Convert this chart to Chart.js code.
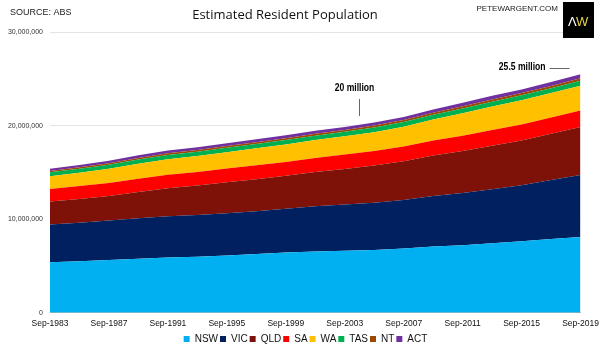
<!DOCTYPE html>
<html>
<head>
<meta charset="utf-8">
<title>Estimated Resident Population</title>
<style>
  html, body { margin: 0; padding: 0; background: #fff; }
  #wrap { width: 602px; height: 354px; position: relative; }
</style>
</head>
<body>
<div id="wrap"><canvas id="c" width="602" height="354"></canvas></div>
<script src="https://cdn.jsdelivr.net/npm/chart.js"></script>
<script>
// years since Sep-1983 (every second September)
var yearIdx = [0, 2, 4, 6, 8, 10, 12, 14, 16, 18, 20, 22, 24, 26, 28, 30, 32, 34, 36];
var startYear = 1983;
var tickYears = [0, 4, 8, 12, 16, 20, 24, 28, 32, 36];

// population, millions
var nsw = [5.40, 5.50, 5.63, 5.77, 5.90, 5.99, 6.13, 6.28, 6.43, 6.56, 6.64, 6.72, 6.86, 7.07, 7.23, 7.43, 7.64, 7.89, 8.10];
var vic = [4.03, 4.12, 4.22, 4.34, 4.42, 4.46, 4.51, 4.58, 4.68, 4.83, 4.93, 5.03, 5.19, 5.40, 5.56, 5.76, 5.98, 6.30, 6.63];
var qld = [2.46, 2.55, 2.64, 2.79, 2.98, 3.14, 3.30, 3.42, 3.52, 3.64, 3.80, 3.98, 4.14, 4.33, 4.49, 4.66, 4.80, 4.95, 5.11];
var sa  = [1.34, 1.37, 1.39, 1.42, 1.45, 1.46, 1.47, 1.48, 1.49, 1.51, 1.53, 1.55, 1.58, 1.61, 1.64, 1.67, 1.70, 1.72, 1.76];
var wa  = [1.35, 1.42, 1.50, 1.60, 1.65, 1.69, 1.75, 1.81, 1.87, 1.91, 1.96, 2.02, 2.12, 2.25, 2.40, 2.53, 2.59, 2.61, 2.66];
var tas = [0.43, 0.44, 0.44, 0.46, 0.47, 0.47, 0.47, 0.47, 0.47, 0.47, 0.48, 0.49, 0.49, 0.50, 0.51, 0.51, 0.52, 0.52, 0.54];
var nt  = [0.14, 0.15, 0.16, 0.16, 0.17, 0.17, 0.18, 0.19, 0.19, 0.20, 0.20, 0.21, 0.21, 0.22, 0.23, 0.24, 0.24, 0.25, 0.25];
var act = [0.23, 0.25, 0.26, 0.28, 0.29, 0.30, 0.30, 0.31, 0.31, 0.32, 0.32, 0.33, 0.34, 0.35, 0.37, 0.38, 0.40, 0.41, 0.43];

var stateNames = ["NSW", "VIC", "QLD", "SA", "WA", "TAS", "NT", "ACT"];
var stateColors = ["#00b0f0", "#002060", "#7f1208", "#ff0000", "#ffc000", "#00b050", "#9c4a00", "#7030a0"];
var stateData = [nsw, vic, qld, sa, wa, tas, nt, act];

var notes = [
  { text: "20 million", x: 21, labelY: 88, lineTop: 99, lineBot: 116 },
  { text: "25.5 million", x: 36, labelY: 67 }
];

function toPoints(arr) {
  return arr.map(function (v, i) { return { x: yearIdx[i], y: v * 1000000 }; });
}

var datasets = [];
for (let i = 0; i < stateNames.length; i++) {
  datasets.push({
    label: stateNames[i],
    data: toPoints(stateData[i]),
    backgroundColor: stateColors[i],
    borderColor: stateColors[i],
    borderWidth: 0,
    pointRadius: 0,
    tension: 0,
    fill: i == 0 ? "origin" : "-1"
  });
}

// condensed bold text (no narrow font installed)
function narrowText(ctx, text, x, y, align) {
  var sx = 0.78;
  ctx.save();
  ctx.translate(x, y);
  ctx.scale(sx, 1);
  ctx.textAlign = align;
  ctx.fillText(text, 0, 0);
  ctx.restore();
}

var overlay = {
  id: "overlay",
  afterLayout: function (chart) {
    // legend sits a bit right of centre in the original
    chart.legend.left += 14;
    chart.legend.right += 14;
  },
  afterDraw: function (chart) {
    var ctx = chart.ctx;
    var xs = chart.scales.x;
    ctx.save();
    // header texts
    ctx.fillStyle = "#222";
    ctx.font = "9px 'Liberation Sans', Arial, sans-serif";
    ctx.textBaseline = "middle";
    ctx.textAlign = "left";
    ctx.fillText("SOURCE: ABS", 10, 13);
    ctx.textAlign = "right";
    ctx.font = "8px 'Liberation Sans', Arial, sans-serif";
    ctx.fillText("PETEWARGENT.COM", 558, 9);
    ctx.textAlign = "center";
    ctx.fillStyle = "#111";
    ctx.font = "13px 'Open Sans', sans-serif";
    ctx.fillText("Estimated Resident Population", 285, 15);
    // logo
    ctx.fillStyle = "#000";
    ctx.fillRect(563, 2, 31, 36);
    ctx.font = "13px 'Liberation Sans', Arial, sans-serif";
    ctx.textAlign = "left";
    ctx.fillStyle = "#fff";
    ctx.fillText("\u039B", 568, 22);
    ctx.fillStyle = "#e8d44a";
    ctx.fillText("W", 576, 22);
    // annotations
    ctx.fillStyle = "#000";
    ctx.strokeStyle = "#666";
    ctx.lineWidth = 1;
    ctx.font = "bold 11px 'Liberation Sans', Arial, sans-serif";
    var a = notes[0];
    var ax = Math.round(xs.getPixelForValue(a.x)) + 0.5;
    narrowText(ctx, a.text, ax - 5, a.labelY, "center");
    ctx.beginPath();
    ctx.moveTo(ax, a.lineTop);
    ctx.lineTo(ax, a.lineBot);
    ctx.stroke();
    var b = notes[1];
    var bx = xs.getPixelForValue(b.x);
    narrowText(ctx, b.text, bx - 35, b.labelY, "right");
    ctx.beginPath();
    ctx.moveTo(bx - 31, b.labelY + 1.5);
    ctx.lineTo(bx - 11, b.labelY + 1.5);
    ctx.stroke();
    ctx.restore();
  }
};

new Chart(document.getElementById("c"), {
  type: "line",
  data: { datasets: datasets },
  plugins: [overlay],
  options: {
    responsive: false,
    animation: false,
    layout: { padding: { top: 32, right: 19, left: 0, bottom: 0 } },
    scales: {
      x: {
        type: "linear",
        min: 0,
        max: 36,
        afterBuildTicks: function (s) {
          s.ticks = tickYears.map(function (v) { return { value: v }; });
        },
        ticks: {
          autoSkip: false,
          maxRotation: 0,
          color: "#111",
          padding: 3,
          font: { family: "'Liberation Sans', Arial, sans-serif", size: 8.5 },
          callback: function (v) { return "Sep-" + (startYear + v); }
        },
        grid: { display: false, drawTicks: true, tickLength: 3, tickColor: "#ccc" },
        border: { display: true, color: "#bbb" }
      },
      y: {
        stacked: true,
        min: 0,
        max: 30000000,
        afterFit: function (s) { s.width = 50; },
        ticks: {
          stepSize: 10000000,
          color: "#333",
          padding: 7,
          font: { family: "'Liberation Sans', Arial, sans-serif", size: 7 },
          callback: function (v) { return v.toLocaleString("en-US"); }
        },
        grid: { color: "#e4e4e4", drawTicks: false },
        border: { display: false }
      }
    },
    plugins: {
      legend: {
        position: "bottom",
        labels: {
          boxWidth: 6,
          boxHeight: 6,
          padding: 2,
          color: "#111",
          font: { family: "'Liberation Sans', Arial, sans-serif", size: 10 }
        }
      },
      tooltip: { enabled: false }
    }
  }
});
</script>
</body>
</html>
